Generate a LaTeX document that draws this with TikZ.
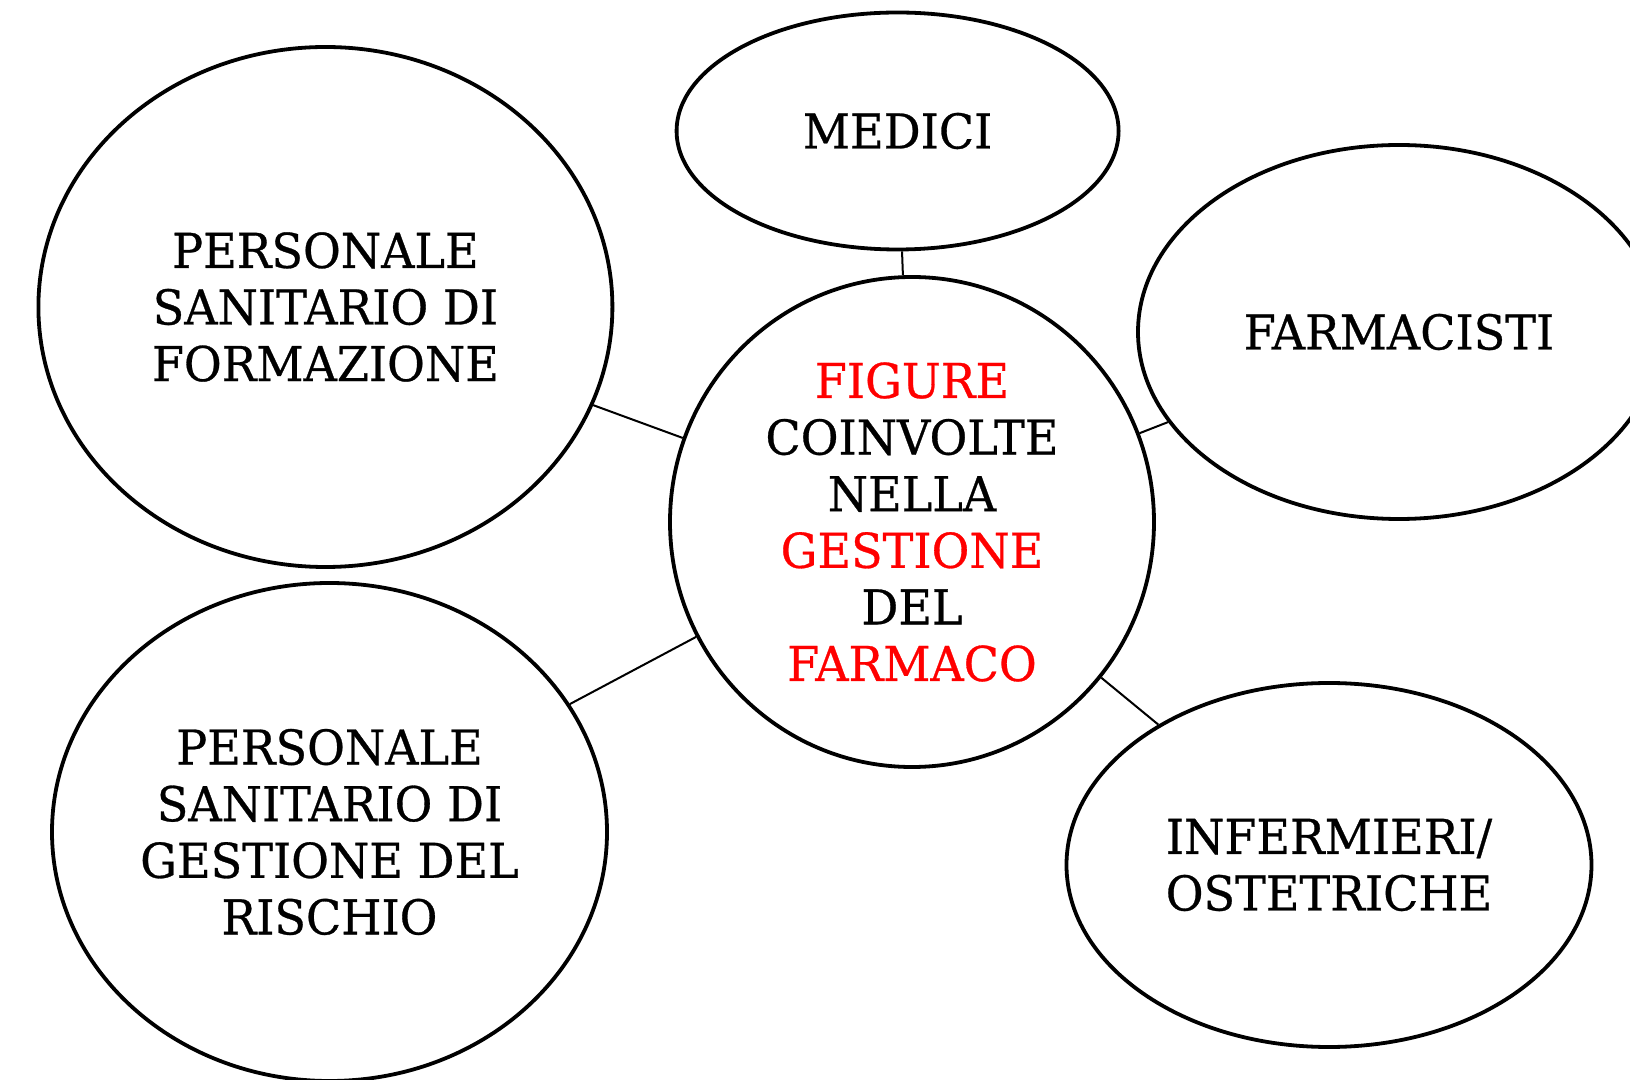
\documentclass[tikz,border=0pt]{standalone}
\usepackage{fontspec}
\setmainfont{DejaVu Serif}[FakeStretch=0.96,FakeBold=0.6]
\usetikzlibrary{shapes.geometric}
\definecolor{hotred}{RGB}{255,0,0}
\begin{document}
\begin{tikzpicture}[x=0.5pt,y=-0.5pt,
  bubble/.style={ellipse,draw=black,line width=1.9pt,inner sep=0pt,align=center,
    font=\fontsize{24}{28.3}\selectfont},
  link/.style={draw=black,line width=1pt}]
\useasboundingbox (0,0) rectangle (1630,1080);
\node[bubble,minimum width=442pt*0.5,minimum height=237pt*0.5] (medici) at (897.6,131) {MEDICI};
\node[bubble,minimum width=484pt*0.5,minimum height=490pt*0.5] (centro) at (912,522)
  {\textcolor{hotred}{FIGURE}\\COINVOLTE\\NELLA\\\textcolor{hotred}{GESTIONE}\\DEL\\\textcolor{hotred}{FARMACO}};
\node[bubble,minimum width=522pt*0.5,minimum height=374pt*0.5] (farm) at (1399,332) {FARMACISTI};
\node[bubble,minimum width=574pt*0.5,minimum height=520pt*0.5] (form) at (325.4,307)
  {PERSONALE\\SANITARIO DI\\FORMAZIONE};
\node[bubble,minimum width=555pt*0.5,minimum height=498pt*0.5] (rischio) at (329.5,832)
  {PERSONALE\\SANITARIO DI\\GESTIONE DEL\\RISCHIO};
\node[bubble,minimum width=525pt*0.5,minimum height=364pt*0.5] (inf) at (1329,865)
  {INFERMIERI/\\OSTETRICHE};
\draw[link] (medici) -- (centro);
\draw[link] (form) -- (centro);
\draw[link] (rischio) -- (centro);
\draw[link] (farm) -- (centro);
\draw[link] (inf) -- (centro);
\end{tikzpicture}
\end{document}
